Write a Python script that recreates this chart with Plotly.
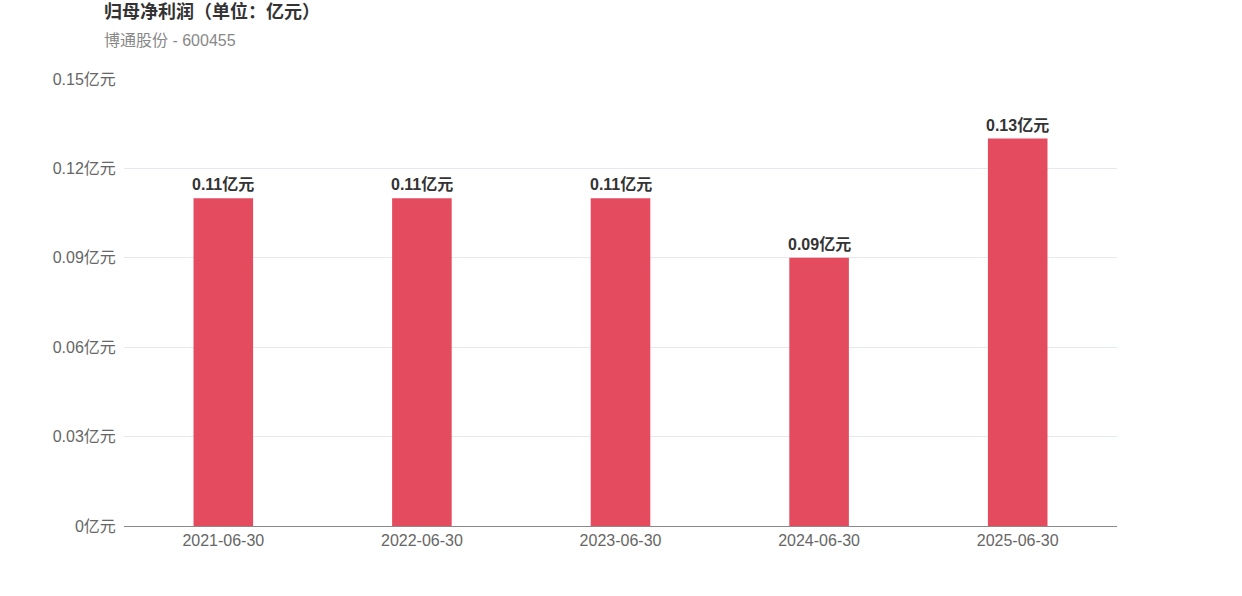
import plotly.graph_objects as go

categories = ["2021-06-30", "2022-06-30", "2023-06-30", "2024-06-30", "2025-06-30"]
values = [0.11, 0.11, 0.11, 0.09, 0.13]
labels = ["0.11亿元", "0.11亿元", "0.11亿元", "0.09亿元", "0.13亿元"]
tick_vals = [0, 0.03, 0.06, 0.09, 0.12, 0.15]
tick_text = ["0亿元", "0.03亿元", "0.06亿元", "0.09亿元", "0.12亿元", "0.15亿元"]

FONT = "Liberation Sans, Arial, Noto Sans CJK SC, sans-serif"

fig = go.Figure(go.Bar(
    x=categories, y=values,
    marker=dict(color="#e54b5e", line=dict(width=0)),
    width=0.3,
    hoverinfo="x+y",
))

annotations = [
    dict(x=c, y=v, text=f"<b>{t}</b>", xref="x", yref="y", showarrow=False,
         xanchor="center", yanchor="bottom", yshift=3,
         font=dict(family=FONT, size=16, color="#333333"))
    for c, v, t in zip(categories, values, labels)
]
annotations += [
    dict(text="<b>归母净利润（单位：亿元）</b>", xref="paper", yref="paper",
         x=-22/993, y=1 + 67/447, xanchor="left", yanchor="middle", showarrow=False,
         font=dict(family=FONT, size=18, color="#333333")),
    dict(text="博通股份 - 600455", xref="paper", yref="paper",
         x=-22/993, y=1 + 39/447, xanchor="left", yanchor="middle", showarrow=False,
         font=dict(family=FONT, size=16, color="#888888")),
]

fig.update_layout(
    width=1242, height=596,
    paper_bgcolor="white", plot_bgcolor="white",
    margin=dict(l=124, r=125, t=79, b=70, autoexpand=False),
    showlegend=False,
    font=dict(family=FONT),
    annotations=annotations,
)
fig.update_xaxes(
    type="category", automargin=False,
    showgrid=False, showline=True, linecolor="#8a8a8a", linewidth=1,
    tickfont=dict(family=FONT, size=16, color="#666666"),
    ticks="", ticklen=0,
)
fig.update_yaxes(
    range=[0, 0.15], tickvals=tick_vals, ticktext=tick_text, automargin=False,
    showgrid=True, gridcolor="#e6e8ef", gridwidth=1, zeroline=False,
    showline=False, ticks="outside", ticklen=4, tickcolor="rgba(0,0,0,0)",
    tickfont=dict(family=FONT, size=16, color="#666666"),
)

fig.write_html("out.html", config={"displayModeBar": False},
               post_script="document.body.style.margin='0';")
